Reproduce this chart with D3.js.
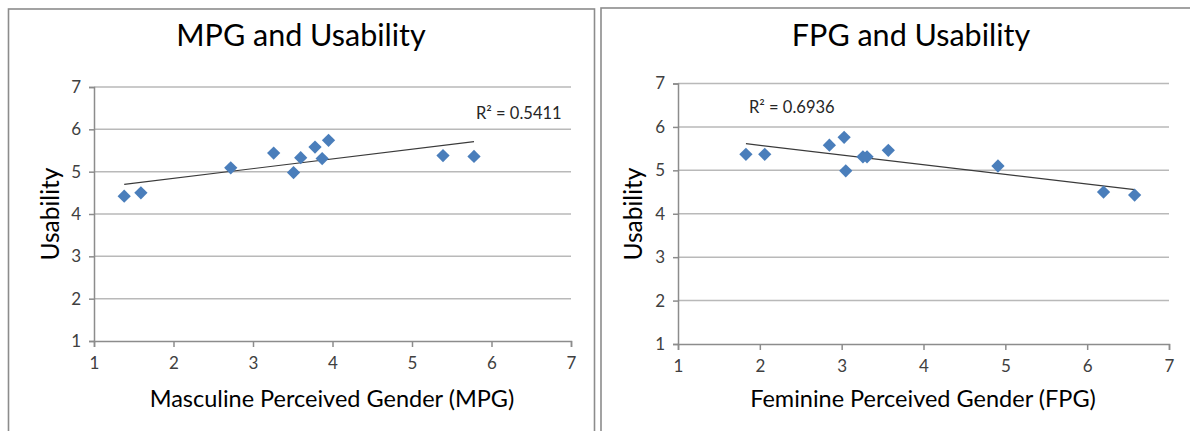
<!DOCTYPE html>
<html>
<head>
<meta charset="utf-8">
<script src="https://cdn.jsdelivr.net/npm/d3@7"></script>
<style>
  html, body { margin: 0; padding: 0; background: #fff; }
  svg { display: block; }
  text { font-family: Lato, "Open Sans", sans-serif; }
</style>
</head>
<body>
<svg id="chart" width="1190" height="431"></svg>
<script>
// ---- data ----
const xTicks = [1, 2, 3, 4, 5, 6, 7];
const yTicks = [1, 2, 3, 4, 5, 6, 7];

const mpgTitle = "MPG and Usability";
const mpgXLabel = "Masculine Perceived Gender (MPG)";
const mpgValues = [1.38, 1.59, 2.72, 3.26, 3.51, 3.60, 3.78, 3.87, 3.95, 5.39, 5.78];
const mpgUsability = [4.42, 4.50, 5.09, 5.44, 4.98, 5.33, 5.58, 5.31, 5.74, 5.38, 5.36];
const mpgR2 = "R² = 0.5411";

const fpgTitle = "FPG and Usability";
const fpgXLabel = "Feminine Perceived Gender (FPG)";
const fpgValues = [1.83, 2.06, 2.85, 3.03, 3.05, 3.26, 3.31, 3.57, 4.91, 6.20, 6.58];
const fpgUsability = [5.37, 5.37, 5.58, 5.76, 4.99, 5.31, 5.31, 5.46, 5.10, 4.50, 4.43];
const fpgR2 = "R² = 0.6936";

const yLabel = "Usability";

// ---- drawing ----
const svg = d3.select("#chart");

function linreg(xs, ys) {
  const mx = d3.mean(xs), my = d3.mean(ys);
  let sxy = 0, sxx = 0;
  xs.forEach((x, i) => { sxy += (x - mx) * (ys[i] - my); sxx += (x - mx) * (x - mx); });
  const b = sxy / sxx;
  return { b, a: my - b * mx };
}

function panel(opt) {
  const g = svg.append("g");
  // frame
  g.append("rect")
    .attr("x", opt.frame[0]).attr("y", opt.frame[1])
    .attr("width", opt.frame[2]).attr("height", opt.frame[3])
    .attr("fill", "#fff").attr("stroke", "#8c8c8c").attr("stroke-width", 1.6);

  const x = d3.scaleLinear().domain([1, 7]).range(opt.xr);
  const y = d3.scaleLinear().domain([1, 7]).range(opt.yr);

  // gridlines
  g.append("g").selectAll("line").data(yTicks.filter(t => t > 1)).join("line")
    .attr("x1", opt.xr[0]).attr("x2", opt.xr[1])
    .attr("y1", d => y(d)).attr("y2", d => y(d))
    .attr("stroke", "#b9b9b9").attr("stroke-width", 1.5);

  // y axis
  const ya = g.append("g").attr("transform", `translate(${opt.xr[0]},0)`)
    .call(d3.axisLeft(y).tickValues(yTicks).tickSize(5).tickPadding(8).tickFormat(d3.format("d")));
  // x axis
  const xa = g.append("g").attr("transform", `translate(0,${opt.yr[0]})`)
    .call(d3.axisBottom(x).tickValues(xTicks).tickSize(6).tickPadding(10).tickFormat(d3.format("d")));
  [ya, xa].forEach(a => {
    a.select(".domain").attr("stroke", "#8c8c8c").attr("stroke-width", 1.5);
    a.selectAll(".tick line").attr("stroke", "#8c8c8c").attr("stroke-width", 1.5);
    a.selectAll(".tick text").attr("fill", "#404040").style("font-size", "17px")
      .style("font-family", "Lato, 'Open Sans', sans-serif");
  });

  // trendline
  const xs = opt.xv, ys = opt.yv;
  const r = linreg(xs, ys);
  const x0 = d3.min(xs), x1 = d3.max(xs);
  g.append("line")
    .attr("x1", x(x0)).attr("y1", y(r.a + r.b * x0))
    .attr("x2", x(x1)).attr("y2", y(r.a + r.b * x1))
    .attr("stroke", "#3a3a3a").attr("stroke-width", 1.2);

  // points
  const sym = d3.symbol(d3.symbolSquare, 88);
  g.append("g").selectAll("path").data(xs.map((v, i) => [v, ys[i]])).join("path")
    .attr("d", sym)
    .attr("transform", d => `translate(${x(d[0])},${y(d[1])}) rotate(45)`)
    .attr("fill", "#4a7ebb");

  // texts
  g.append("text").attr("x", opt.titleX).attr("y", 46).attr("text-anchor", "middle")
    .style("font-size", "30.5px").attr("fill", "#000").text(opt.title);
  g.append("text").attr("x", opt.xLabelX).attr("y", 407).attr("text-anchor", "middle")
    .style("font-size", "23.5px").attr("fill", "#000").text(opt.xLabel);
  g.append("text").attr("transform", `translate(${opt.yLabelX},214) rotate(-90)`)
    .attr("text-anchor", "middle").style("font-size", "24.5px").attr("fill", "#000").text(yLabel);
  g.append("text").attr("x", opt.r2[0]).attr("y", opt.r2[1])
    .style("font-size", "16.5px").attr("fill", "#262626").text(opt.r2Text);
}

panel({
  frame: [8.5, 9, 586, 440],
  xr: [94, 571], yr: [341, 87],
  xv: mpgValues, yv: mpgUsability,
  title: mpgTitle, titleX: 301, xLabel: mpgXLabel, xLabelX: 332, yLabelX: 59,
  r2: [476, 119], r2Text: mpgR2
});

panel({
  frame: [601, 8, 600, 440],
  xr: [678, 1169], yr: [344, 83.5],
  xv: fpgValues, yv: fpgUsability,
  title: fpgTitle, titleX: 911, xLabelX: 923, xLabel: fpgXLabel, yLabelX: 642,
  r2: [749, 113], r2Text: fpgR2
});
</script>
</body>
</html>
